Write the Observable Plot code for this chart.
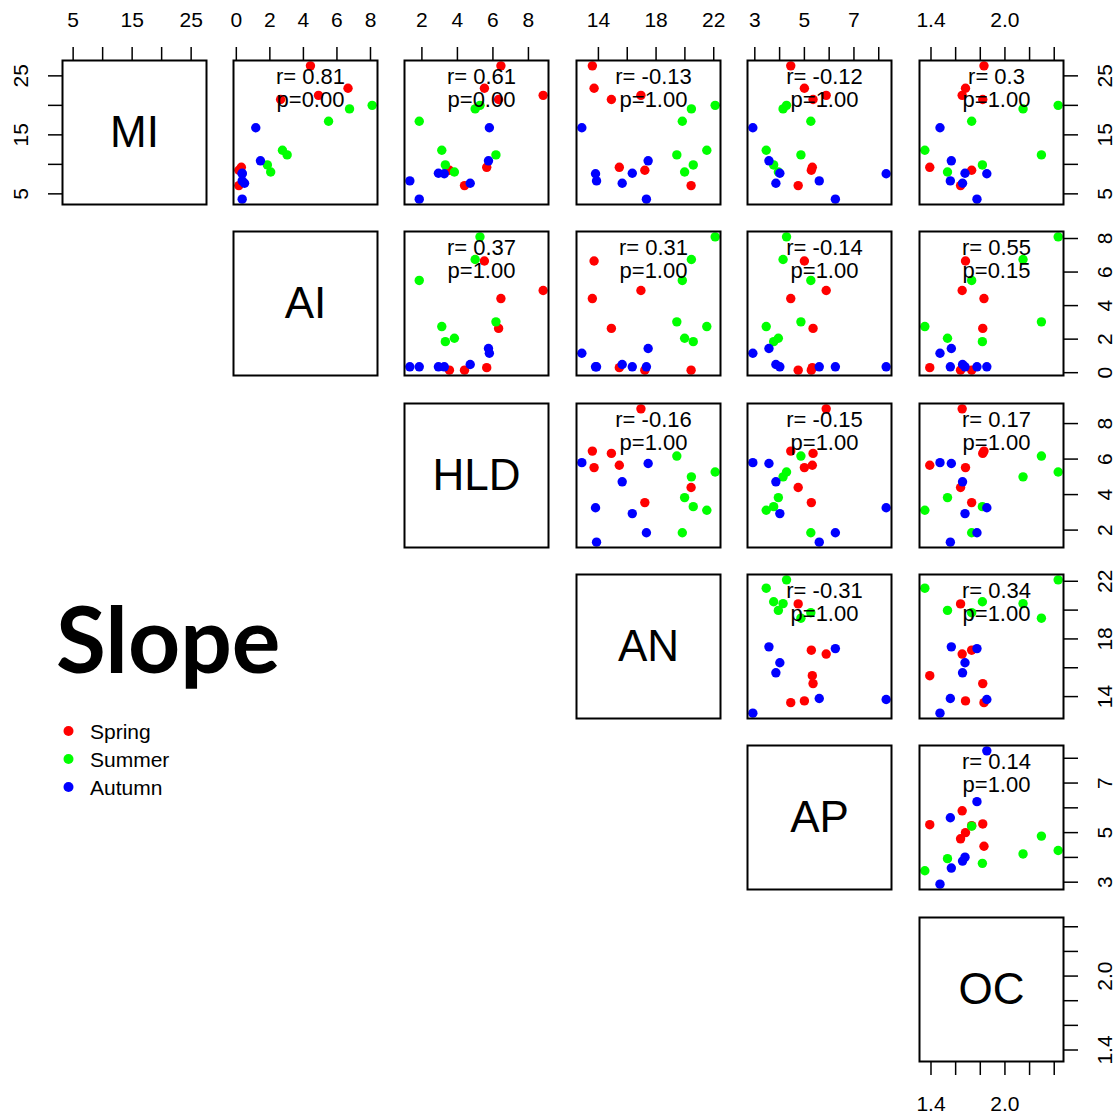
<!DOCTYPE html>
<html>
<head>
<meta charset="utf-8">
<script src="https://cdn.jsdelivr.net/npm/d3@7"></script>
<script src="https://cdn.jsdelivr.net/npm/@observablehq/plot@0.6"></script>
<style>
  body { margin: 0; background: #fff; }
  #chart { position: relative; width: 1117px; height: 1115px; overflow: hidden; background: #fff; }
</style>
</head>
<body>
<div id="chart"></div>
<script>
// Six slope variables measured over three seasons (7 sites each)
const variables = ["MI", "AI", "HLD", "AN", "AP", "OC"];
const seasons = ["Spring", "Summer", "Autumn"];
const seasonColors = ["#FF0000", "#00FF00", "#0000FF"];

const season = [
  "Spring", "Spring", "Spring", "Spring", "Spring", "Spring", "Spring",
  "Summer", "Summer", "Summer", "Summer", "Summer", "Summer", "Summer",
  "Autumn", "Autumn", "Autumn", "Autumn", "Autumn", "Autumn", "Autumn"
];
const MI  = [26.7, 22.9, 21.0, 21.7, 9.5, 9.0, 6.4,   20.0, 19.4, 17.3, 12.4, 11.6, 9.9, 8.7,   16.2, 10.6, 8.4, 8.5, 7.2, 6.8, 4.1];
const AI  = [4.42, 6.66, 2.64, 4.9, 0.3, 0.15, 0.15,  8.1, 6.75, 5.5, 2.75, 3.03, 1.85, 2.05,   1.16, 1.44, 0.35, 0.35, 0.35, 0.49, 0.35];
const HLD = [6.45, 5.52, 6.32, 8.83, 5.65, 3.55, 4.4, 5.27, 5.0, 1.85, 3.12, 6.17, 3.32, 3.83,  5.8, 5.75, 3.26, 2.93, 1.32, 4.72, 1.85];
const AN  = [13.58, 13.7, 14.9, 16.95, 15.45, 17.22, 20.43, 22.1, 20.45, 19.82, 21.52, 19.44, 20.58, 19.98, 12.85, 17.45, 13.8, 16.35, 13.87, 15.65, 17.33];
const AP  = [4.45, 5.0, 5.35, 5.88, 5.32, 5.28, 4.75, 4.28, 4.14, 5.26, 3.46, 4.86, 3.76, 3.95,  2.92, 3.57, 8.3, 4.01, 5.6, 3.85, 6.25];
const OC  = [1.83, 1.68, 1.82, 1.653, 1.39, 1.73, 1.64, 2.432, 2.147, 1.73, 1.35, 2.296, 1.817, 1.534, 1.473, 1.565, 1.853, 1.676, 1.557, 1.656, 1.773];

// Correlation annotations for the upper panels, row by row
const rLabels = ["0.81", "0.61", "-0.13", "-0.12", "0.3", "0.37", "0.31", "-0.14", "0.55", "-0.16", "-0.15", "0.17", "-0.31", "0.34", "0.14"];
const pLabels = ["0.00", "0.00", "1.00", "1.00", "1.00", "1.00", "1.00", "1.00", "0.15", "1.00", "1.00", "1.00", "1.00", "1.00", "1.00"];

// Axis ticks and the subset of them that carry a label
const ticksMI = [5, 10, 15, 20, 25],        labelsMI = [5, 15, 25];
const ticksAI = [0, 2, 4, 6, 8],            labelsAI = [0, 2, 4, 6, 8];
const ticksHLD = [2, 4, 6, 8],              labelsHLD = [2, 4, 6, 8];
const ticksAN = [14, 16, 18, 20, 22],       labelsAN = [14, 18, 22];
const ticksAP = [3, 4, 5, 6, 7, 8],         labelsAP = [3, 5, 7];
const ticksOC = [1.4, 1.6, 1.8, 2.0, 2.2, 2.4], labelsOC = [1.4, 2.0];

const series = {MI, AI, HLD, AN, AP, OC};
const tickSets = {MI: ticksMI, AI: ticksAI, HLD: ticksHLD, AN: ticksAN, AP: ticksAP, OC: ticksOC};
const labelSets = {MI: labelsMI, AI: labelsAI, HLD: labelsHLD, AN: labelsAN, AP: labelsAP, OC: labelsOC};
const formats = {MI: d3.format("d"), AI: d3.format("d"), HLD: d3.format("d"), AN: d3.format("d"), AP: d3.format("d"), OC: d3.format(".1f")};

const rows = season.map((s, i) => ({season: s, MI: MI[i], AI: AI[i], HLD: HLD[i], AN: AN[i], AP: AP[i], OC: OC[i]}));

// Same range convention as base graphics: data extent widened by 4% each side
function paddedDomain(values) {
  const [a, b] = d3.extent(values);
  const pad = (b - a) * 0.04;
  return [a - pad, b + pad];
}
const domains = Object.fromEntries(variables.map(v => [v, paddedDomain(series[v])]));

const SIZE = 144, M = 60;
const FONT = "'Liberation Sans', Arial, sans-serif";
const TICK_FONT = 21;
const colLeft = k => Math.round(61.5 + k * 171.4);
const rowTop = k => Math.round(59.8 + k * 171.35);

const chart = document.getElementById("chart");

// Title and legend
const deco = d3.create("svg")
  .attr("width", 1117).attr("height", 1115)
  .style("position", "absolute").style("left", "0px").style("top", "0px");
deco.append("text")
  .attr("x", 56).attr("y", 673)
  .attr("font-family", "Lato, 'Open Sans', sans-serif")
  .attr("font-weight", 700).attr("font-size", 91)
  .attr("fill", "#000")
  .text("Slope");
const legend = deco.append("g").attr("font-family", FONT).attr("font-size", 21);
seasons.forEach((s, k) => {
  const cy = 731 + k * 28;
  legend.append("circle").attr("cx", 68.5).attr("cy", cy).attr("r", 5).attr("fill", seasonColors[k]);
  legend.append("text").attr("x", 90).attr("y", cy + 7.5).attr("fill", "#000").text(s);
});
chart.append(deco.node());

const tickStyle = {tickSize: 14, tickFormat: () => "", label: null, stroke: "#000", strokeWidth: 1.5};

let pairIndex = 0;
variables.forEach((yv, i) => {
  variables.forEach((xv, j) => {
    if (j < i) return;
    const marks = [];
    if (i === j) {
      marks.push(Plot.text([yv], {text: d => d, frameAnchor: "middle", fontSize: 44, fill: "#000"}));
    } else {
      marks.push(Plot.dot(rows, {x: xv, y: yv, fill: "season", r: 4.7}));
      const k = pairIndex++;
      marks.push(Plot.text([`r= ${rLabels[k]}\np=${pLabels[k]}`], {
        text: d => d, frameAnchor: "top", lineAnchor: "top",
        dx: 5, dy: 7, fontSize: 22, lineHeight: 1.06, fill: "#000"
      }));
    }
    marks.push(Plot.frame({stroke: "#000", strokeWidth: 2}));

    // top axis on the first row
    if (i === 0) {
      marks.push(Plot.axisX({ticks: tickSets[xv], anchor: "top", ...tickStyle}));
      marks.push(Plot.text(labelSets[xv], {x: d => d, text: formats[xv], frameAnchor: "top", lineAnchor: "middle", textAnchor: "middle", dy: -40, fontSize: TICK_FONT, fill: "#000"}));
    }
    // left axis on the first panel
    if (i === 0 && j === 0) {
      marks.push(Plot.axisY({ticks: tickSets[yv], anchor: "left", ...tickStyle}));
      marks.push(Plot.text(labelSets[yv], {y: d => d, text: formats[yv], frameAnchor: "left", lineAnchor: "middle", textAnchor: "middle", dx: -41, rotate: -90, fontSize: TICK_FONT, fill: "#000"}));
    }
    // right axis on the last column
    if (j === variables.length - 1) {
      marks.push(Plot.axisY({ticks: tickSets[yv], anchor: "right", ...tickStyle}));
      marks.push(Plot.text(labelSets[yv], {y: d => d, text: formats[yv], frameAnchor: "right", lineAnchor: "middle", textAnchor: "middle", dx: 42, rotate: -90, fontSize: TICK_FONT, fill: "#000"}));
    }
    // bottom axis under the last diagonal panel
    if (i === variables.length - 1 && j === variables.length - 1) {
      marks.push(Plot.axisX({ticks: tickSets[xv], anchor: "bottom", ...tickStyle}));
      marks.push(Plot.text(labelSets[xv], {x: d => d, text: formats[xv], frameAnchor: "bottom", lineAnchor: "middle", textAnchor: "middle", dy: 43, fontSize: TICK_FONT, fill: "#000"}));
    }

    const svg = Plot.plot({
      width: SIZE + 2 * M,
      height: SIZE + 2 * M,
      marginTop: M, marginRight: M, marginBottom: M, marginLeft: M,
      x: {domain: domains[xv], axis: null},
      y: {domain: domains[yv], axis: null},
      color: {domain: seasons, range: seasonColors},
      style: {background: "transparent", fontFamily: FONT, fontSize: "20px", color: "#000", overflow: "visible"},
      marks
    });
    svg.style.position = "absolute";
    svg.style.left = (colLeft(j) - M) + "px";
    svg.style.top = (rowTop(i) - M) + "px";
    chart.append(svg);
  });
});
</script>
</body>
</html>
